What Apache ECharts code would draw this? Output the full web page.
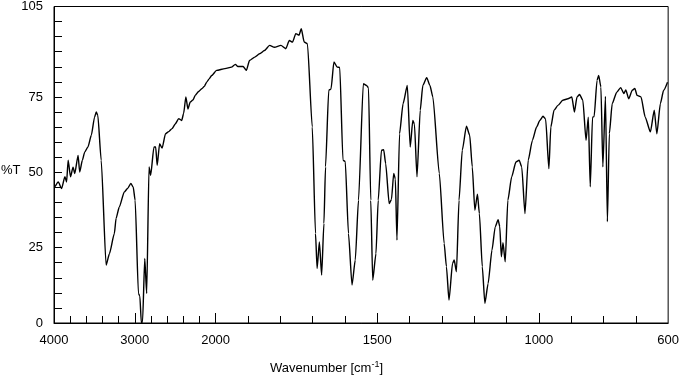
<!DOCTYPE html>
<html>
<head>
<meta charset="utf-8">
<script src="https://cdn.jsdelivr.net/npm/echarts@6/dist/echarts.min.js"></script>
<style>
  html, body { margin: 0; padding: 0; background: #fff; }
  #chart { width: 682px; height: 377px; }
</style>
</head>
<body>
<div id="chart"></div>
<script>
// IR spectrum: wavenumber (cm-1) and %T
var wavenumber = [
  3988, 3947, 3906, 3865, 3844, 3825, 3796, 3764, 3743, 3702, 3682, 3649, 3620, 3580,
  3538, 3498, 3477, 3458, 3416, 3355, 3314, 3253, 3232, 3192, 3130, 3090, 3049, 3020,
  2996, 2955, 2938, 2919, 2904, 2877, 2853, 2824, 2804, 2763, 2742, 2723, 2693, 2662,
  2620, 2580, 2539, 2500, 2457, 2420, 2396, 2368, 2343, 2314, 2280, 2253, 2210, 2172,
  2140, 2111, 2080, 2049, 1997, 1971, 1951, 1939, 1931, 1915, 1905, 1895, 1879, 1864,
  1849, 1833, 1818, 1798, 1783, 1772, 1762, 1752, 1742, 1735, 1726, 1716, 1701, 1691,
  1686, 1679, 1672, 1665, 1660, 1650, 1643, 1634, 1624, 1616, 1606, 1599, 1589, 1578,
  1568, 1558, 1543, 1533, 1527, 1520, 1514, 1504, 1497, 1487, 1480, 1474, 1463, 1456,
  1449, 1444, 1439, 1431, 1420, 1407, 1398, 1390, 1385, 1377, 1367, 1359, 1347, 1337,
  1328, 1308, 1293, 1286, 1278, 1267, 1262, 1255, 1247, 1237, 1224, 1214, 1206, 1198,
  1190, 1184, 1175, 1167, 1157, 1145, 1135, 1126, 1121, 1116, 1111, 1104, 1096, 1084,
  1071, 1061, 1053, 1043, 1033, 1020, 1007, 997, 987, 979, 969, 963, 953, 941,
  926, 910, 898, 890, 882, 874, 864, 854, 847, 841, 834, 829, 820, 815,
  808, 802, 794, 788, 782, 773, 759, 747, 737, 731, 722, 711, 703, 696,
  684, 671, 655, 643, 635, 624, 614, 602
];
var transmittance = [
  45.2, 46.8, 44.6, 48.5, 46.8, 54.0, 48.5, 51.7, 49.6, 55.6, 50.1, 54.0, 56.7, 58.4,
  62.3, 68.3, 70.0, 68.9, 54.0, 19.2, 23.0, 29.7, 34.7, 38.5, 43.5, 44.6, 46.3, 45.1,
  40.7, 9.8, 9.0, 0.0, 0.5, 21.4, 9.8, 51.8, 49.0, 58.4, 58.4, 52.3, 59.5, 58.0,
  62.8, 63.5, 64.5, 66.0, 67.8, 67.2, 69.5, 75.0, 71.0, 73.3, 74.0, 75.5, 76.8, 77.7,
  78.5, 79.9, 81.0, 82.1, 83.8, 84.4, 84.9, 85.8, 85.1, 85.1, 83.8, 87.1, 88.2, 89.3,
  90.4, 92.1, 91.5, 92.1, 91.0, 93.7, 93.2, 96.0, 95.5, 97.6, 93.2, 92.7, 65.0, 29.7,
  18.1, 26.9, 15.9, 33.0, 51.8, 77.2, 77.6, 86.6, 84.9, 84.8, 54.0, 53.6, 29.7, 12.6,
  20.9, 40.7, 79.4, 78.8, 78.0, 40.7, 14.2, 23.0, 40.7, 57.3, 57.5, 52.9, 39.6, 41.0,
  49.6, 47.8, 27.5, 62.8, 72.8, 78.8, 58.4, 67.2, 66.0, 48.5, 70.6, 78.8, 81.4, 78.8,
  75.0, 49.6, 26.4, 18.7, 7.6, 19.8, 20.9, 17.0, 40.7, 57.3, 65.3, 62.3, 51.8, 37.4,
  42.7, 36.3, 18.7, 6.5, 13.1, 24.2, 31.9, 34.3, 32.0, 22.0, 26.6, 20.3, 40.7, 48.5,
  53.4, 54.0, 51.8, 36.3, 54.0, 60.6, 65.0, 67.2, 68.6, 67.6, 51.2, 65.0, 70.6, 72.2,
  73.9, 74.4, 75.0, 70.0, 75.0, 75.8, 73.9, 60.6, 68.3, 45.2, 68.3, 68.5, 80.5, 82.1,
  78.3, 51.8, 75.2, 33.6, 62.8, 72.8, 76.6, 78.1, 76.1, 77.3, 74.4, 77.2, 77.8, 75.5,
  75.0, 68.3, 63.4, 70.6, 62.8, 72.8, 77.2, 79.9
];

var labelTicks = [4000, 3000, 2000, 1500, 1000, 600];
var majorTicks = [3000, 2000, 1500, 1000];
var minorTicks = [3800, 3600, 3400, 3200, 2800, 2600, 2400, 2200,
  1900, 1800, 1700, 1600, 1400, 1300, 1200, 1100, 900, 800, 700];
var yLabels = [0, 25, 50, 75, 105];
var yTicks = [0, 5, 10, 15, 20, 25, 30, 35, 40, 45, 50, 55, 60, 65, 70, 75, 80, 85, 90, 95, 100];

// scale changes at 2000 cm-1: below it one cm-1 takes 4x the width
function toAxis(w) {
  return w >= 2000 ? 4000 - w : 2000 + (2000 - w) * 4;
}
function fromAxis(t) {
  return t <= 2000 ? 4000 - t : 2000 - (t - 2000) / 4;
}

var spectrum = wavenumber.map(function (w, i) { return [toAxis(w), transmittance[i]]; });

var font = 'Liberation Sans, Arial, sans-serif';
var chart = echarts.init(document.getElementById('chart'));

chart.setOption({
  animation: false,
  backgroundColor: '#fff',
  grid: {
    left: 54, right: 8, top: 6, bottom: 54,
    show: true, borderColor: '#000', borderWidth: 1
  },
  xAxis: [
    {
      type: 'value', min: 0, max: 7600,
      axisLine: { lineStyle: { color: '#000', width: 1 } },
      splitLine: { show: false },
      axisTick: { inside: true, length: 10, lineStyle: { color: '#000' },
        customValues: majorTicks.map(toAxis) },
      axisLabel: {
        color: '#000', fontSize: 13, fontFamily: font, margin: 11,
        customValues: labelTicks.map(toAxis),
        formatter: function (v) { return String(Math.round(fromAxis(v))); }
      }
    },
    {
      type: 'value', min: 0, max: 7600, position: 'bottom',
      axisLine: { show: false },
      splitLine: { show: false },
      axisTick: { inside: true, length: 7, lineStyle: { color: '#000' },
        customValues: minorTicks.map(toAxis) },
      axisLabel: { show: false }
    }
  ],
  yAxis: {
    type: 'value', min: 0, max: 105,
    axisLine: { show: true, lineStyle: { color: '#000', width: 1 } },
    splitLine: { show: false },
    axisTick: { inside: true, length: 8, lineStyle: { color: '#000' }, customValues: yTicks },
    axisLabel: { color: '#000', fontSize: 13, fontFamily: font, margin: 11, customValues: yLabels }
  },
  graphic: [
    {
      type: 'text', left: 1, top: 164,
      style: { text: '%T', fill: '#000', font: '13px ' + font }
    },
    {
      type: 'text', left: 270, top: 360,
      style: {
        text: 'Wavenumber [cm{sup|-1}]',
        fill: '#000', font: '13px ' + font,
        rich: { sup: { fontSize: 9, fontFamily: font, fill: '#000', padding: [0, 0, 7, 0] } }
      }
    }
  ],
  series: [{
    type: 'line',
    data: spectrum,
    showSymbol: false,
    smooth: 0.2,
    smoothMonotone: 'x',
    lineStyle: { color: '#000', width: 1.4 }
  }]
});
</script>
</body>
</html>
